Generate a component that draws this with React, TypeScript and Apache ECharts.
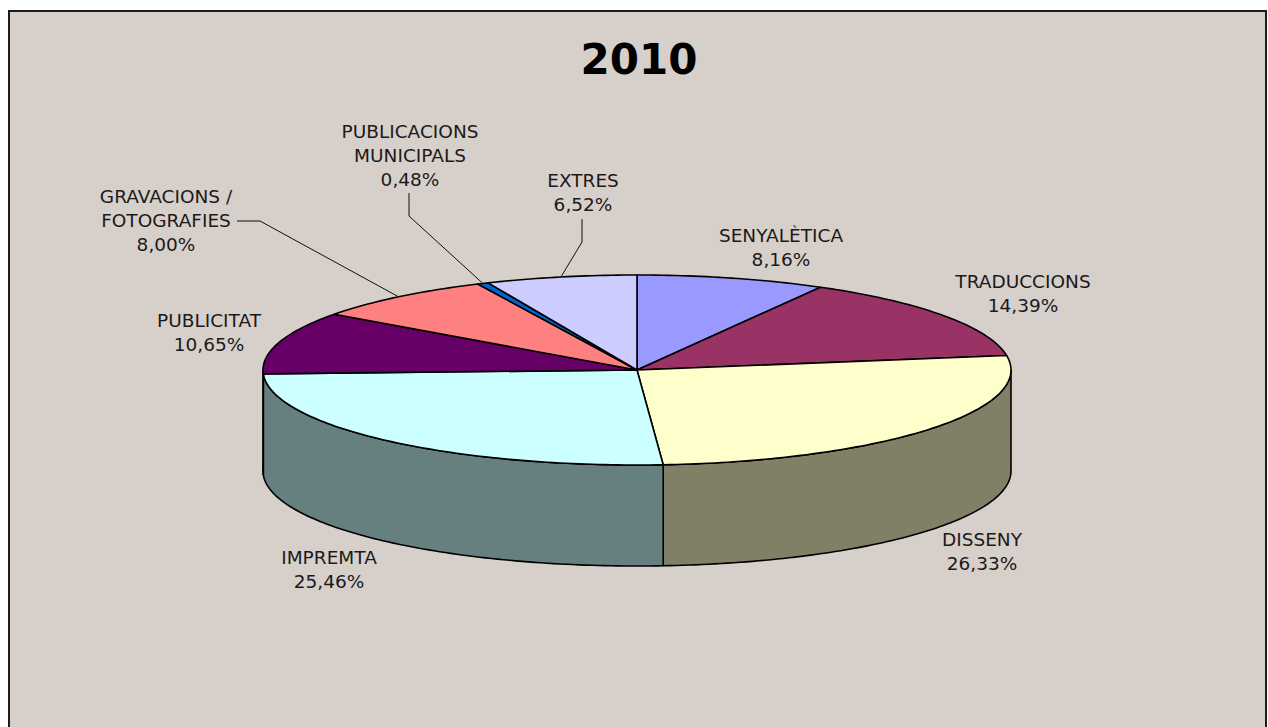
import React, { useEffect, useRef } from "react";
import * as echarts from "echarts";

const titleText = "2010";
const categories = [
  "SENYALÈTICA",
  "TRADUCCIONS",
  "DISSENY",
  "IMPREMTA",
  "PUBLICITAT",
  "GRAVACIONS /\nFOTOGRAFIES",
  "PUBLICACIONS\nMUNICIPALS",
  "EXTRES",
];
const shares = [8.16, 14.39, 26.33, 25.46, 10.65, 8.0, 0.48, 6.52];
const sliceColors = ["#9999FF", "#993366", "#FFFFCC", "#CCFFFF", "#660066", "#FF8080", "#0066CC", "#CCCCFF"];

// label anchor (centre x, centre y) per slice
const labelAnchors = [
  [781, 247],
  [1023, 293],
  [982, 551],
  [329, 569],
  [209, 332],
  [166, 220],
  [410, 155],
  [583, 192],
];
// leader line elbows (null when the slice has no leader)
const leaderStarts: (number[][] | null)[] = [
  null,
  null,
  null,
  null,
  null,
  [[237, 221], [260, 221]],
  [[409, 193], [409, 216]],
  [[582, 219], [582, 242]],
];

const CX = 637;
const CY = 370;
const RX = 374;
const RY = 95;
const DEPTH = 101;
const INK = "#000000";
const TEXT = "#1a1a1a";
const FONT = '"DejaVu Sans", Verdana, sans-serif';

const total = shares.reduce((a, b) => a + b, 0);
const starts = shares.map((_, i) => shares.slice(0, i).reduce((a, b) => a + b, 0));

const toPoint = (deg: number, dy = 0) => {
  const r = (deg * Math.PI) / 180;
  return [CX + RX * Math.sin(r), CY - RY * Math.cos(r) + dy];
};
const arc = (a0: number, a1: number, dy = 0) => {
  const n = Math.max(1, Math.ceil(Math.abs(a1 - a0)));
  const pts: number[][] = [];
  for (let i = 0; i <= n; i++) pts.push(toPoint(a0 + ((a1 - a0) * i) / n, dy));
  return pts;
};
const shade = (hex: string) => {
  const v = parseInt(hex.slice(1), 16);
  const f = (c: number) => Math.round(c / 2);
  return `rgb(${f((v >> 16) & 255)},${f((v >> 8) & 255)},${f(v & 255)})`;
};
const percent = (v: number) => `${v.toFixed(2).replace(".", ",")}%`;

const renderSlice = (params: any, api: any) => {
  const i = params.dataIndex;
  const value = api.value(0);
  const start = api.value(1);
  const a0 = (start / total) * 360;
  const a1 = ((start + value) / total) * 360;
  const children: any[] = [];
  const stroke = { stroke: INK, lineWidth: 1.6, lineJoin: "round" };

  const s0 = Math.max(a0, 90);
  const s1 = Math.min(a1, 270);
  if (s1 > s0) {
    children.push({
      type: "polygon",
      shape: { points: [...arc(s0, s1), ...arc(s1, s0, DEPTH)] },
      style: { fill: shade(sliceColors[i]), ...stroke },
    });
  }
  children.push({
    type: "polygon",
    shape: { points: [[CX, CY], ...arc(a0, a1)] },
    style: { fill: sliceColors[i], ...stroke },
  });

  const elbows = leaderStarts[i];
  if (elbows) {
    children.push({
      type: "polyline",
      shape: { points: [...elbows, toPoint((a0 + a1) / 2)] },
      style: { fill: "none", stroke: "#111111", lineWidth: 1 },
    });
  }
  children.push({
    type: "text",
    x: labelAnchors[i][0],
    y: labelAnchors[i][1],
    style: {
      text: `${categories[i]}\n${percent(value)}`,
      fill: TEXT,
      font: `18.5px ${FONT}`,
      lineHeight: 24,
      align: "center",
      verticalAlign: "middle",
    },
  });
  return { type: "group", children };
};

export default function App() {
  const ref = useRef<HTMLDivElement>(null);
  useEffect(() => {
    document.body.style.margin = "0";
    const chart = echarts.init(ref.current!, null, { renderer: "svg" });
    chart.setOption({
      animation: false,
      backgroundColor: "#FFFFFF",
      title: {
        text: titleText,
        left: 634,
        top: 33,
        textAlign: "center",
        textStyle: { fontFamily: FONT, fontSize: 42, fontWeight: "bold", color: "#000000" },
      },
      graphic: [
        {
          type: "rect",
          z: -1,
          shape: { x: 9, y: 11, width: 1257, height: 730 },
          style: { fill: "#D7CFCA", stroke: "#1c1c1c", lineWidth: 2 },
        },
      ],
      series: [
        {
          type: "custom",
          coordinateSystem: "none",
          clip: false,
          renderItem: renderSlice,
          data: shares.map((v, i) => [v, starts[i]]),
          z: 2,
        },
      ],
    });
    return () => chart.dispose();
  }, []);
  return <div ref={ref} style={{ width: 1268, height: 727, position: "absolute", left: 0, top: 0 }} />;
}
